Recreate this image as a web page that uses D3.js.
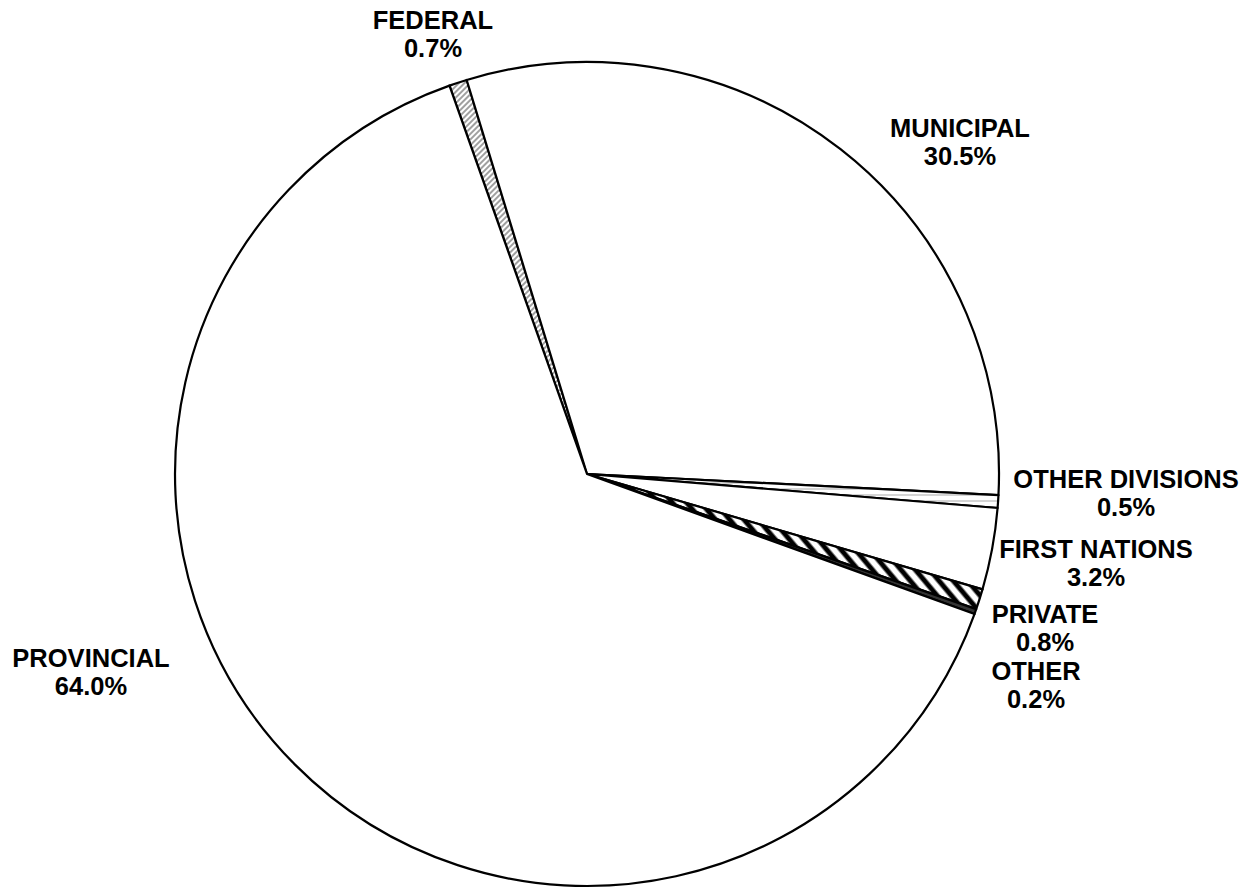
<!DOCTYPE html>
<html>
<head>
<meta charset="utf-8">
<script src="https://cdn.jsdelivr.net/npm/d3@7"></script>
<style>
  html, body { margin: 0; padding: 0; background: #fff; }
  svg { display: block; }
  text { font-family: "Liberation Sans", Arial, sans-serif; font-weight: bold; font-size: 25.5px; fill: #000; }
</style>
</head>
<body>
<script>
// Data (clockwise from Federal)
const categories = ["FEDERAL", "MUNICIPAL", "OTHER DIVISIONS", "FIRST NATIONS", "PRIVATE", "OTHER", "PROVINCIAL"];
const values = [0.7, 30.5, 0.5, 3.2, 0.8, 0.2, 64.0];
const valueLabels = ["0.7%", "30.5%", "0.5%", "3.2%", "0.8%", "0.2%", "64.0%"];

const W = 1243, H = 888;
const cx = 587, cy = 474, R = 412;
const startDeg = -19.5;

// label anchor positions (center x, first baseline y)
const labelPos = {
  "FEDERAL": [433, 29],
  "MUNICIPAL": [960, 137],
  "OTHER DIVISIONS": [1126, 488],
  "FIRST NATIONS": [1096, 558],
  "PRIVATE": [1045, 623],
  "OTHER": [1036, 680],
  "PROVINCIAL": [91, 667]
};

const svg = d3.select("body").append("svg").attr("width", W).attr("height", H);
const defs = svg.append("defs");

// Federal: light gray "/" hatching
const p1 = defs.append("pattern").attr("id", "hatchFed").attr("patternUnits", "userSpaceOnUse")
  .attr("width", 4).attr("height", 4).attr("patternTransform", "rotate(45)");
p1.append("rect").attr("width", 4).attr("height", 4).attr("fill", "#fff");
p1.append("line").attr("x1", 1).attr("y1", 0).attr("x2", 1).attr("y2", 4)
  .attr("stroke", "#888").attr("stroke-width", 1.6);

// Private: bold black "\" hatching
const p2 = defs.append("pattern").attr("id", "hatchPriv").attr("patternUnits", "userSpaceOnUse")
  .attr("width", 11).attr("height", 11).attr("patternTransform", "rotate(-40)");
p2.append("rect").attr("width", 11).attr("height", 11).attr("fill", "#fff");
p2.append("line").attr("x1", 3).attr("y1", 0).attr("x2", 3).attr("y2", 11)
  .attr("stroke", "#000").attr("stroke-width", 5);

// Other divisions: faint lines
const p3 = defs.append("pattern").attr("id", "hatchOD").attr("patternUnits", "userSpaceOnUse")
  .attr("width", 6).attr("height", 6);
p3.append("rect").attr("width", 6).attr("height", 6).attr("fill", "#fff");
p3.append("line").attr("x1", 0).attr("y1", 3).attr("x2", 6).attr("y2", 3)
  .attr("stroke", "#aaa").attr("stroke-width", 1);

const fills = ["url(#hatchFed)", "#fff", "url(#hatchOD)", "#fff", "url(#hatchPriv)", "#333", "#fff"];

const data = categories.map((c, i) => ({ name: c, value: values[i], label: valueLabels[i], fill: fills[i] }));

const toRad = d => d * Math.PI / 180;
const pie = d3.pie().sort(null).value(d => d.value)
  .startAngle(toRad(startDeg)).endAngle(toRad(startDeg + 360));
const arc = d3.arc().innerRadius(0).outerRadius(R);

const g = svg.append("g").attr("transform", `translate(${cx},${cy})`);
g.selectAll("path").data(pie(data)).join("path")
  .attr("d", arc)
  .attr("fill", d => d.data.fill)
  .attr("stroke", "#000")
  .attr("stroke-width", 2.2)
  .attr("stroke-linejoin", "round");

const lbl = svg.append("g");
data.forEach(d => {
  const [x, y] = labelPos[d.name];
  const t = lbl.append("text").attr("text-anchor", "middle");
  t.append("tspan").attr("x", x).attr("y", y).text(d.name);
  t.append("tspan").attr("x", x).attr("y", y + 28).text(d.label);
});
</script>
</body>
</html>
